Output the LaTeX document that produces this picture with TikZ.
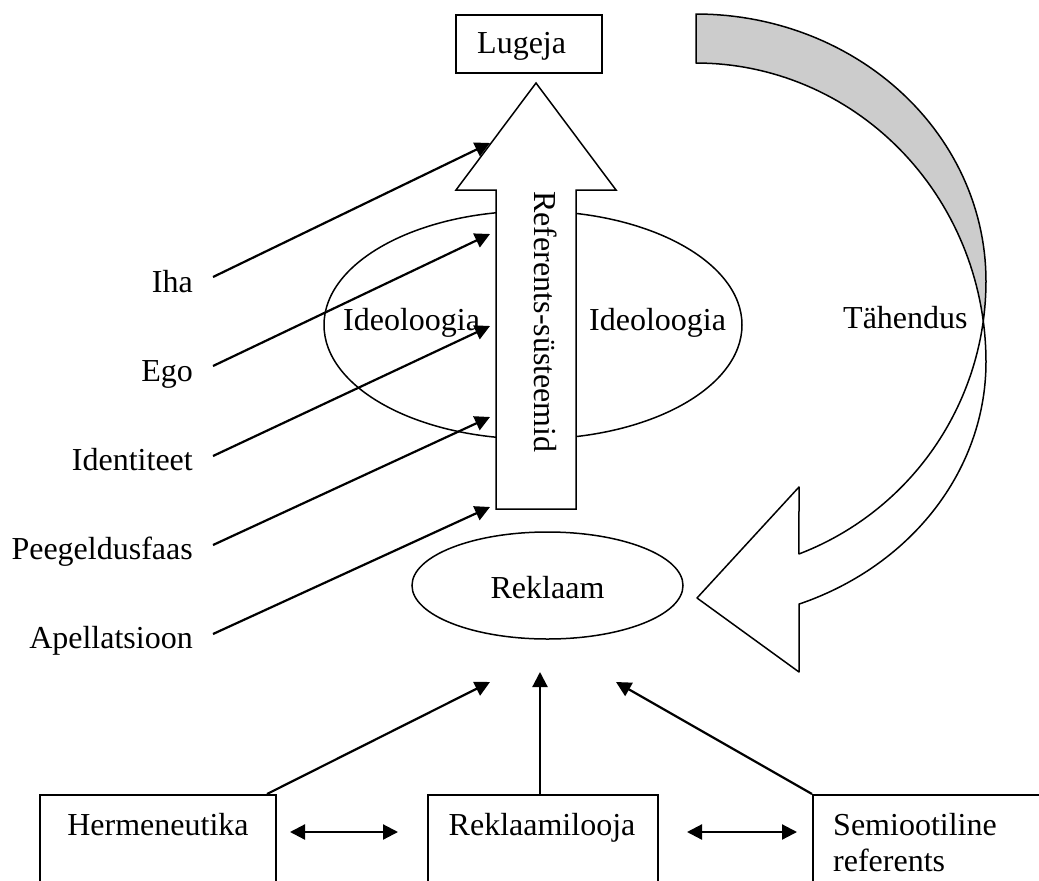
\documentclass[tikz,border=0pt]{standalone}
\usepackage{fontspec}
\setmainfont{Liberation Serif}
\usetikzlibrary{shapes.geometric,arrows.meta}
\begin{document}
\begin{tikzpicture}[x=1pt,y=-1pt,
  txt/.style={font=\fontsize{32}{38}\selectfont, inner sep=0pt},
  outl/.style={draw, line width=1.5pt},
  arr/.style={line width=2.2pt, -{Triangle[length=15pt,width=15pt]}},
  darr/.style={line width=2.2pt, {Triangle[length=15pt,width=15pt]}-{Triangle[length=15pt,width=15pt]}}]
\clip (0,0) rectangle (1039,881);
\fill[white] (0,0) rectangle (1039,881);

% Lugeja box
\node[outl, minimum width=146pt, minimum height=58pt, anchor=north west, inner sep=0pt] (lugbox) at (455,14) {};
\node[txt, anchor=base west] (lugeja) at (477,53) {Lugeja};

% Ideoloogia ellipse
\node[outl, ellipse, minimum width=418pt, minimum height=228pt, inner sep=0pt] (ideo) at (533,325) {};

% big up arrow
\filldraw[outl, fill=white] (496,509) -- (496,190) -- (456,190) -- (536,83) -- (616,190) -- (576,190) -- (576,509) -- cycle;
\node[txt, rotate=-90] (refs) at (546,322) {Referents-süsteemid};

\node[txt, anchor=base west] (ideoL) at (343,330) {Ideoloogia};
\node[txt, anchor=base west] (ideoR) at (589,330) {Ideoloogia};

% left labels
\node[txt, anchor=base east] (iha) at (193,292) {Iha};
\node[txt, anchor=base east] (ego) at (193,381) {Ego};
\node[txt, anchor=base east] (ident) at (193,470) {Identiteet};
\node[txt, anchor=base east] (peeg) at (193,559) {Peegeldusfaas};
\node[txt, anchor=base east] (apel) at (193,648) {Apellatsioon};

\coordinate (ihaS) at (213,277);   \coordinate (ihaE) at (490,143);
\coordinate (egoS) at (213,366);   \coordinate (egoE) at (490,234);
\coordinate (idS) at (213,456);    \coordinate (idE) at (490,326);
\coordinate (peS) at (213,545);    \coordinate (peE) at (490,417);
\coordinate (apS) at (213,634);    \coordinate (apE) at (490,507);
\draw[arr] (ihaS) -- (ihaE);
\draw[arr] (egoS) -- (egoE);
\draw[arr] (idS) -- (idE);
\draw[arr] (peS) -- (peE);
\draw[arr] (apS) -- (apE);

% curved arrow (twisted ribbon)
\filldraw[outl, line join=round, fill=gray!40] (696,14)
  -- plot[domain=-90:0,samples=60] ({696+290*cos(\x)},{281+267*sin(\x)})
  -- plot[domain=0:7.87,samples=10] ({696+290*cos(\x)},{281+292*sin(\x)})
  -- plot[domain=-7.88:-90,samples=60] ({696+290*cos(\x)},{362+299*sin(\x)})
  -- cycle;
\filldraw[outl, line join=round, fill=white]
  plot[domain=7.87:69.2,samples=60] ({696+290*cos(\x)},{281+292*sin(\x)})
  -- (799,487) -- (697,598) -- (799,672) -- (799,604)
  -- plot[domain=69.2:0,samples=60] ({696+290*cos(\x)},{362+259*sin(\x)})
  -- plot[domain=0:-7.88,samples=10] ({696+290*cos(\x)},{362+299*sin(\x)})
  -- cycle;
\node[txt, anchor=base west] (tah) at (843,328) {Tähendus};

% Reklaam
\node[outl, ellipse, minimum width=271pt, minimum height=107pt, inner sep=0pt] (rek) at (547.5,585.5) {};
\node[txt, anchor=base] (rektxt) at (547.5,598) {Reklaam};

% bottom boxes
\node[outl, minimum width=236pt, minimum height=120pt, anchor=north west, inner sep=0pt] (hbox) at (39,794) {};
\node[outl, minimum width=230pt, minimum height=120pt, anchor=north west, inner sep=0pt] (rbox) at (427,794) {};
\node[outl, minimum width=260pt, minimum height=120pt, anchor=north west, inner sep=0pt] (sbox) at (812,794) {};
\node[txt, anchor=base] (herm) at (158,835) {Hermeneutika};
\node[txt, anchor=base] (rlooja) at (542,835) {Reklaamilooja};
\node[txt, anchor=base west] (semi1) at (833,835) {Semiootiline};
\node[txt, anchor=base west] (semi2) at (833,871) {referents};

\coordinate (hS) at (267,794);  \coordinate (hE) at (490,682);
\coordinate (rS) at (540,794);  \coordinate (rE) at (540,672);
\coordinate (sS) at (812,794);  \coordinate (sE) at (616,682);
\draw[arr] (hS) -- (hE);
\draw[arr] (rS) -- (rE);
\draw[arr] (sS) -- (sE);

\coordinate (d1a) at (290,832); \coordinate (d1b) at (398,832);
\coordinate (d2a) at (687,832); \coordinate (d2b) at (797,832);
\draw[darr] (d1a) -- (d1b);
\draw[darr] (d2a) -- (d2b);
\end{tikzpicture}
\end{document}
